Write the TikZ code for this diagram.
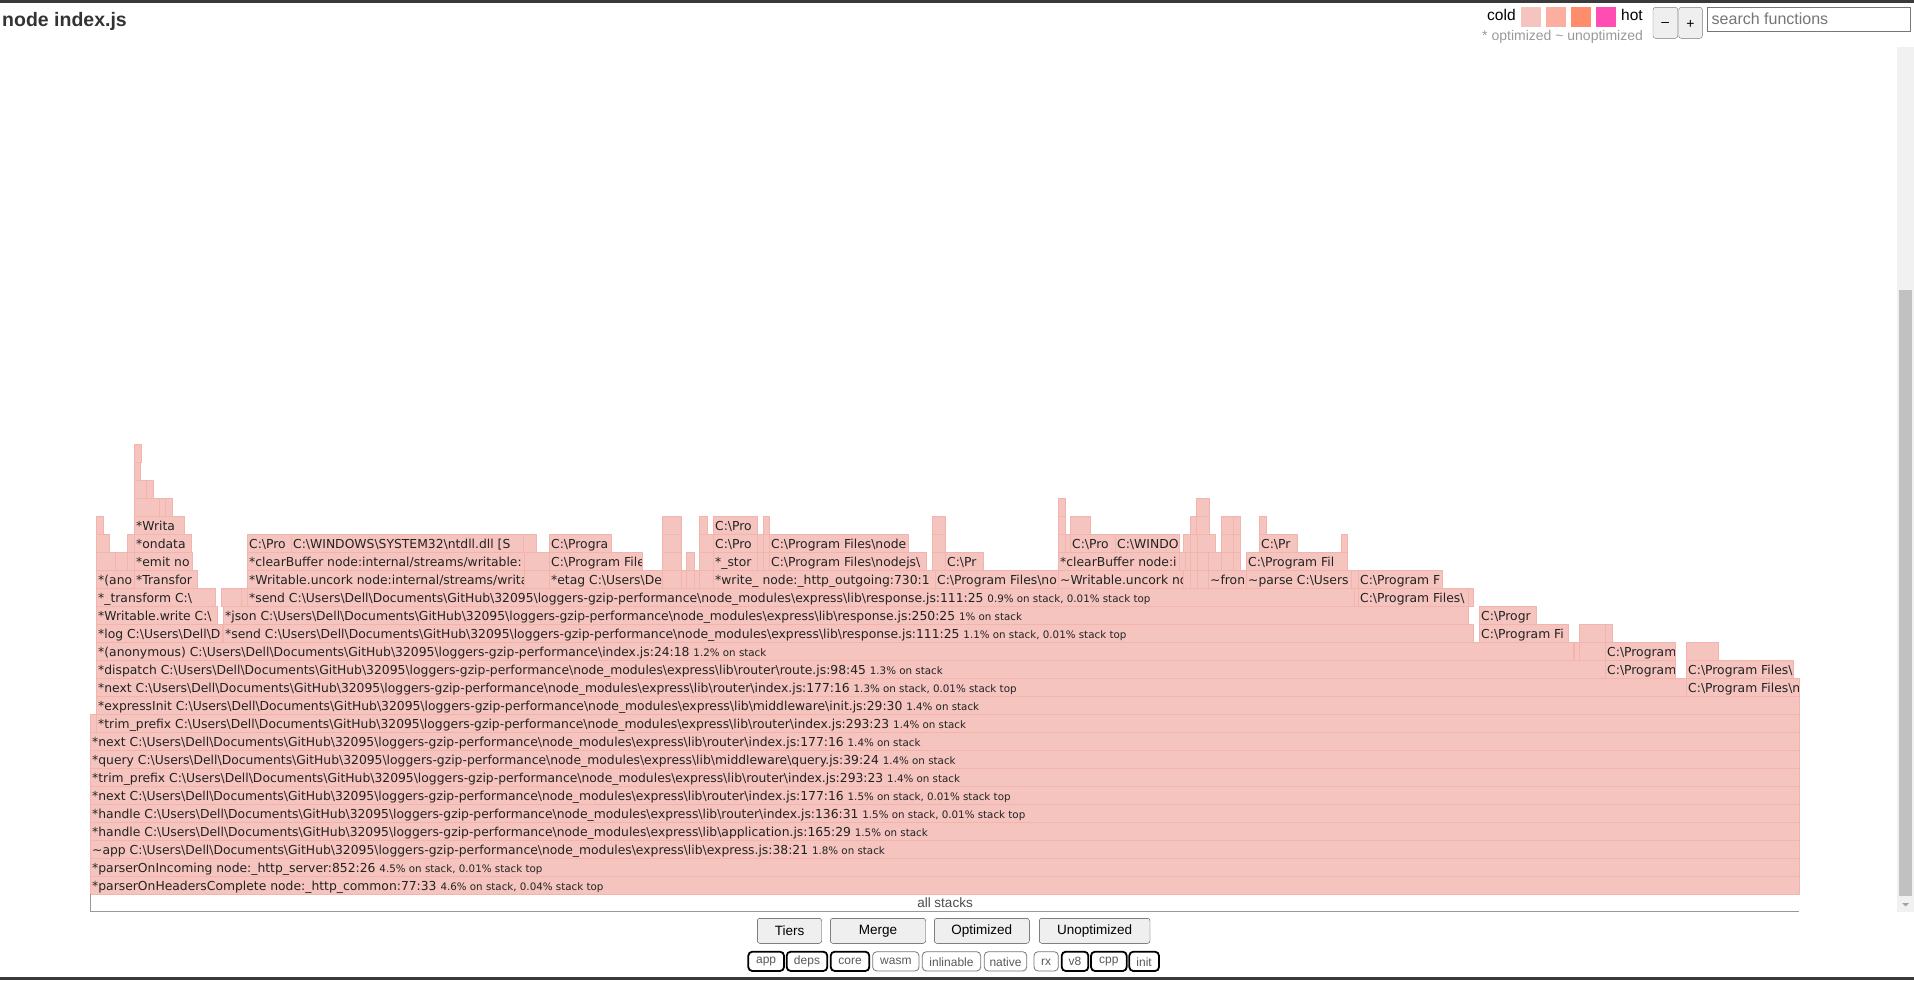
\documentclass[tikz,border=0pt]{standalone}
\usepackage{fontspec}
\setmainfont{Liberation Sans}
\newfontfamily\flammefont{DejaVu Sans}
\definecolor{rose}{RGB}{245,196,190}
\definecolor{roseb}{RGB}{242,180,172}
\definecolor{texte}{RGB}{34,34,34}
\definecolor{barre}{RGB}{58,58,58}
\definecolor{titregris}{RGB}{51,51,51}
\definecolor{chaudA}{RGB}{246,196,190}
\definecolor{chaudB}{RGB}{252,175,160}
\definecolor{chaudC}{RGB}{255,140,106}
\definecolor{chaudD}{RGB}{255,77,178}
\definecolor{bouton}{RGB}{239,239,239}
\definecolor{bord}{RGB}{118,118,118}
\definecolor{piste}{RGB}{241,241,241}
\definecolor{pouce}{RGB}{193,193,193}
\newcommand{\bs}{\textbackslash}
\newcommand{\chemin}{C:\bs Users\bs Dell\bs Documents\bs GitHub\bs 32095\bs loggers-gzip-performance\bs node\_modules\bs express\bs lib\bs}
\newcommand{\stat}[1]{{\fontsize{10.3}{10}\selectfont #1}}
\newcounter{nbloc}
% une case du graphe : rangee, debut, fin, texte
\newcommand{\flamme}[4]{%
  \stepcounter{nbloc}%
  \begin{scope}
    \draw[case] (#2,{894-18*(#1+1)}) rectangle (#3,{894-18*#1});
    \clip (#2,{894-18*(#1+1)}) rectangle (#3-1,{894-18*#1});
    \node[etiq] (b\thenbloc) at (#2+2,{894-18*#1-4}) {#4};
  \end{scope}}
\begin{document}
\begin{tikzpicture}[x=1pt,y=-1pt,
    case/.style={fill=rose,draw=roseb,line width=0.8pt},
    etiq/.style={anchor=base west,inner sep=0pt,text=texte,font=\flammefont\fontsize{12.35}{12}\selectfont},
    bouton/.style={fill=bouton,draw=bord,rounded corners=2.5pt},
    actif/.style={fill=white,draw=black,line width=1.8pt,rounded corners=4pt},
    inactif/.style={fill=white,draw=bord,line width=0.8pt,rounded corners=4pt}]
    \useasboundingbox (0,0) rectangle (1914,980);

    % Bandes sombres en haut et en bas
    \fill[barre] (0,0) rectangle (1914,2.7);
    \fill[barre] (0,977.3) rectangle (1914,980);

    % Titre et legende
    \node[anchor=base west,inner sep=0pt,text=titregris,font=\fontsize{19.5}{20}\selectfont\bfseries] (titre) at (2,26) {node index.js};
    \node[anchor=base west,inner sep=0pt,font=\fontsize{15.5}{16}\selectfont] (froid) at (1487,20.7) {cold};
    \foreach \i/\c in {0/chaudA,1/chaudB,2/chaudC,3/chaudD}
        \fill[\c] ({1521+25*\i},6.7) rectangle ({1541+25*\i},26.7);
    \node[anchor=base west,inner sep=0pt,font=\fontsize{15.5}{16}\selectfont] (chaud) at (1621,20.7) {hot};
    \node[anchor=base west,inner sep=0pt,text=black!40,font=\fontsize{14}{14}\selectfont] (legende) at (1482,40) {* optimized \textasciitilde\ unoptimized};

    % Boutons de zoom et recherche
    \draw[bouton] (1653,7.3) rectangle (1677.7,38.3);
    \draw[bouton] (1678.7,7.3) rectangle (1702.3,38.3);
    \node[font=\fontsize{14}{14}\selectfont] (moins) at (1665.3,24) {–};
    \node[font=\fontsize{14}{14}\selectfont] (plus) at (1690.5,24) {+};
    \draw[bord,fill=white] (1707,7.3) rectangle (1910,30.7);
    \node[anchor=base west,inner sep=0pt,text=black!54,font=\fontsize{16}{16}\selectfont] (recherche) at (1711.5,24) {search functions};

    % Barre de defilement
    \fill[piste] (1897,47) rectangle (1914,912);
    \fill[pouce] (1899,290) rectangle (1912,896);
    \fill[black!36] (1902,903) -- (1909,903) -- (1905.5,906.5) -- cycle;

    % Rangees pleines du bas
    \flamme{0}{90}{1799}{*parserOnHeadersComplete node:\_http\_common:77:33 \stat{4.6\% on stack, 0.04\% stack top}}
    \flamme{1}{90}{1799}{*parserOnIncoming node:\_http\_server:852:26 \stat{4.5\% on stack, 0.01\% stack top}}
    \flamme{2}{90}{1799}{\textasciitilde app \chemin express.js:38:21 \stat{1.8\% on stack}}
    \flamme{3}{90}{1799}{*handle \chemin application.js:165:29 \stat{1.5\% on stack}}
    \flamme{4}{90}{1799}{*handle \chemin router\bs index.js:136:31 \stat{1.5\% on stack, 0.01\% stack top}}
    \flamme{5}{90}{1799}{*next \chemin router\bs index.js:177:16 \stat{1.5\% on stack, 0.01\% stack top}}
    \flamme{6}{90}{1799}{*trim\_prefix \chemin router\bs index.js:293:23 \stat{1.4\% on stack}}
    \flamme{7}{90}{1799}{*query \chemin middleware\bs query.js:39:24 \stat{1.4\% on stack}}
    \flamme{8}{90}{1799}{*next \chemin router\bs index.js:177:16 \stat{1.4\% on stack}}
    \flamme{9}{96}{1799}{*trim\_prefix \chemin router\bs index.js:293:23 \stat{1.4\% on stack}}
    \flamme{10}{96}{1799}{*expressInit \chemin middleware\bs init.js:29:30 \stat{1.4\% on stack}}

    % Rangees qui se divisent
    \flamme{11}{96}{1686}{*next \chemin router\bs index.js:177:16 \stat{1.3\% on stack, 0.01\% stack top}}
    \flamme{11}{1686}{1799}{C:\bs Program Files\bs n}
    \flamme{12}{96}{1605}{*dispatch \chemin router\bs route.js:98:45 \stat{1.3\% on stack}}
    \flamme{12}{1605}{1675}{C:\bs Program}
    \flamme{12}{1686}{1793}{C:\bs Program Files\bs n}
    \flamme{13}{96}{1573}{*(anonymous) C:\bs Users\bs Dell\bs Documents\bs GitHub\bs 32095\bs loggers-gzip-performance\bs index.js:24:18 \stat{1.2\% on stack}}
    \flamme{13}{1605}{1675}{C:\bs Program}
    \flamme{14}{96}{222}{*log C:\bs Users\bs Dell\bs D}
    \flamme{14}{223}{1473}{*send \chemin response.js:111:25 \stat{1.1\% on stack, 0.01\% stack top}}
    \flamme{14}{1479}{1568}{C:\bs Program Fi}
    \flamme{15}{96}{217}{*Writable.write C:\bs}
    \flamme{15}{223}{1468}{*json \chemin response.js:250:25 \stat{1\% on stack}}
    \flamme{15}{1479}{1536}{C:\bs Progr}
    \flamme{16}{96}{215}{*\_transform C:\bs}
    \flamme{16}{247}{1354}{*send \chemin response.js:111:25 \stat{0.9\% on stack, 0.01\% stack top}}
    \flamme{16}{1358}{1468}{C:\bs Program Files\bs}

    % Sommets des piles
    \flamme{17}{96}{134}{*(ano}
    \flamme{17}{134}{197}{*Transfor}
    \flamme{17}{247}{524}{*Writable.uncork node:internal/streams/writa}
    \flamme{17}{549}{662}{*etag C:\bs Users\bs De}
    \flamme{17}{713}{935}{*write\_ node:\_http\_outgoing:730:1}
    \flamme{17}{935}{1058}{C:\bs Program Files\bs no}
    \flamme{17}{1058}{1183}{\textasciitilde Writable.uncork no}
    \flamme{17}{1208}{1246}{\textasciitilde fron}
    \flamme{17}{1246}{1351}{\textasciitilde parse C:\bs Users}
    \flamme{17}{1358}{1442}{C:\bs Program F}
    \flamme{18}{134}{192}{*emit no}
    \flamme{18}{247}{524}{*clearBuffer node:internal/streams/writable:}
    \flamme{18}{549}{642}{C:\bs Program File}
    \flamme{18}{713}{757}{*\_stor}
    \flamme{18}{769}{926}{C:\bs Program Files\bs nodejs\bs}
    \flamme{18}{945}{983}{C:\bs Pr}
    \flamme{18}{1058}{1179}{*clearBuffer node:i}
    \flamme{18}{1246}{1347}{C:\bs Program Fil}
    \flamme{19}{134}{191}{*ondata}
    \flamme{19}{247}{291}{C:\bs Pro}
    \flamme{19}{291}{523}{C:\bs WINDOWS\bs SYSTEM32\bs ntdll.dll [S}
    \flamme{19}{549}{611}{C:\bs Progra}
    \flamme{19}{713}{757}{C:\bs Pro}
    \flamme{19}{769}{908}{C:\bs Program Files\bs node}
    \flamme{19}{1070}{1115}{C:\bs Pro}
    \flamme{19}{1115}{1179}{C:\bs WINDO}
    \flamme{19}{1259}{1297}{C:\bs Pr}
    \flamme{20}{134}{184}{*Writa}
    \flamme{20}{713}{757}{C:\bs Pro}

    % Cases sans texte
    \foreach \ra/\xa/\xb in {9/90/96,13/1574/1579,13/1579/1605,13/1686/1718,14/1579/1605,14/1605/1612,
        16/221/241,16/241/247,16/1354/1358,16/1468/1473,
        17/524/549,17/662/681,17/681/686,17/686/694,17/694/699,17/699/713,17/1183/1190,17/1190/1197,17/1197/1208,17/1351/1358,
        18/96/115,18/115/127,18/127/134,18/524/549,18/662/681,18/686/694,18/699/713,18/757/763,18/763/769,18/932/945,
        18/1179/1185,18/1185/1190,18/1190/1197,18/1197/1208,18/1208/1221,18/1221/1233,18/1233/1240,
        19/96/109,19/127/134,19/523/536,19/662/681,19/699/713,19/757/763,19/763/769,19/932/945,19/1058/1065,19/1065/1070,
        19/1183/1190,19/1190/1197,19/1197/1215,19/1221/1233,19/1233/1240,19/1341/1347,
        20/96/103,20/662/681,20/699/707,20/763/769,20/932/945,20/1058/1065,20/1070/1090,20/1190/1196,20/1196/1209,
        20/1221/1233,20/1233/1240,20/1259/1266,
        21/134/159,21/159/165,21/165/172,21/1058/1065,21/1196/1209,
        22/134/146,22/146/153,23/134/140,24/134/141}
        \draw[case] (\xa,{894-18*(\ra+1)}) rectangle (\xb,{894-18*\ra});

    % Rangee racine
    \draw[black!40] (90,894) -- (90,911) -- (1799,911);
    \node[anchor=base,inner sep=0pt,text=black!70,font=\fontsize{13.5}{14}\selectfont] (tous) at (945,907.5) {all stacks};

    % Boutons du bas
    \foreach \nom/\xa/\xb/\txt in {tiers/757.3/821.7/Tiers,fusion/830.3/925.7/Merge,opt/934.3/1029.3/Optimized,nonopt/1039.3/1150/Unoptimized}{
        \draw[bouton,draw=black!75] (\xa,918.3) rectangle (\xb,943.3);
        \node[font=\fontsize{13.5}{14}\selectfont] (\nom) at ({(\xa+\xb)/2},931) {\txt};
    }
    \foreach \nom/\xa/\xb/\sty in {app/748.3/784/actif,deps/786.7/827.3/actif,core/830.7/869.3/actif,
        wasm/872.7/919/inactif,inlinable/922.3/980.7/inactif,native/984.3/1026.7/inactif,rx/1034/1058.3/inactif,
        v8/1061.7/1088.3/actif,cpp/1091/1126.7/actif,init/1129.3/1159/actif}{
        \draw[\sty] (\xa,951.7) rectangle (\xb,971);
        \node[text=black!65,font=\fontsize{12}{12}\selectfont] (t\nom) at ({(\xa+\xb)/2},961.8) {\nom};
    }
\end{tikzpicture}
\end{document}
